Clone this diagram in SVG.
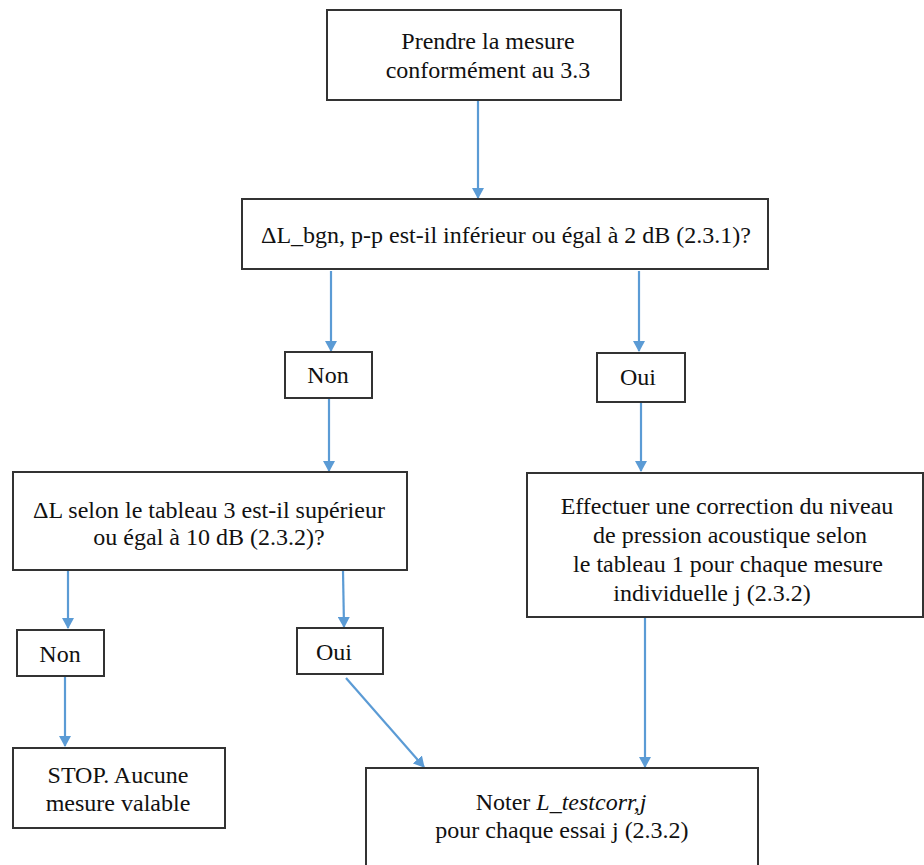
<svg xmlns="http://www.w3.org/2000/svg" width="924" height="865" viewBox="0 0 924 865">
<defs>
<style>
.box{fill:#fff;stroke:#333;stroke-width:2}
.t{font-size:24px;fill:#111;text-anchor:middle}
.c{stroke:#5B9BD5;stroke-width:2.2;fill:none;marker-end:url(#ah)}
</style>
<marker id="ah" markerWidth="12" markerHeight="12" refX="10" refY="6" orient="auto" markerUnits="userSpaceOnUse">
<path d="M0,0 L11,6 L0,12 Z" fill="#5B9BD5"/>
</marker>
</defs>
<rect width="924" height="865" fill="#fff"/>
<g id="connectors">
<line class="c" x1="478" y1="101" x2="478" y2="198"/>
<line class="c" x1="331" y1="271" x2="331" y2="351"/>
<line class="c" x1="639" y1="271" x2="639" y2="351"/>
<line class="c" x1="329" y1="399" x2="329" y2="471"/>
<line class="c" x1="641" y1="403" x2="641" y2="471"/>
<line class="c" x1="68" y1="571" x2="68" y2="628"/>
<line class="c" x1="343" y1="571" x2="344" y2="627"/>
<line class="c" x1="65" y1="677" x2="65" y2="746"/>
<line class="c" x1="346" y1="678" x2="424" y2="767"/>
<line class="c" x1="645" y1="618" x2="645" y2="767"/>
</g>
<g font-family="'Liberation Serif', 'DejaVu Serif', serif">
<g id="n1">
<rect class="box" x="327" y="10" width="294" height="90"/>
<text class="t" x="488" y="49">Prendre la mesure</text>
<text class="t" x="488" y="78">conformément au 3.3</text>
</g>
<g id="n2">
<rect class="box" x="242" y="199" width="526" height="70"/>
<text class="t" x="506" y="243">ΔL_bgn, p-p est-il inférieur ou égal à 2 dB (2.3.1)?</text>
</g>
<g id="n3">
<rect class="box" x="285" y="352" width="87" height="46"/>
<text class="t" x="328" y="383">Non</text>
</g>
<g id="n4">
<rect class="box" x="597" y="353" width="88" height="49"/>
<text class="t" x="638" y="385">Oui</text>
</g>
<g id="n5">
<rect class="box" x="13" y="472" width="394" height="98"/>
<text class="t" x="209" y="518">ΔL selon le tableau 3 est-il supérieur</text>
<text class="t" x="209" y="545">ou égal à 10 dB (2.3.2)?</text>
</g>
<g id="n6">
<rect class="box" x="527" y="473" width="396" height="144"/>
<text class="t" x="727" y="514">Effectuer une correction du niveau</text>
<text class="t" x="730" y="543">de pression acoustique selon</text>
<text class="t" x="728" y="572">le tableau 1 pour chaque mesure</text>
<text class="t" x="712" y="601">individuelle j (2.3.2)</text>
</g>
<g id="n7">
<rect class="box" x="17" y="630" width="87" height="46"/>
<text class="t" x="60" y="662">Non</text>
</g>
<g id="n8">
<rect class="box" x="297" y="628" width="86" height="46"/>
<text class="t" x="334" y="660">Oui</text>
</g>
<g id="n9">
<rect class="box" x="13" y="748" width="212" height="80"/>
<text class="t" x="118" y="783">STOP. Aucune</text>
<text class="t" x="118" y="811">mesure valable</text>
</g>
<g id="n10">
<rect class="box" x="366" y="768" width="392" height="110"/>
<text class="t" x="561" y="810">Noter <tspan font-style="italic">L_testcorr,j</tspan></text>
<text class="t" x="562" y="838">pour chaque essai j (2.3.2)</text>
</g>
</g>
</svg>
